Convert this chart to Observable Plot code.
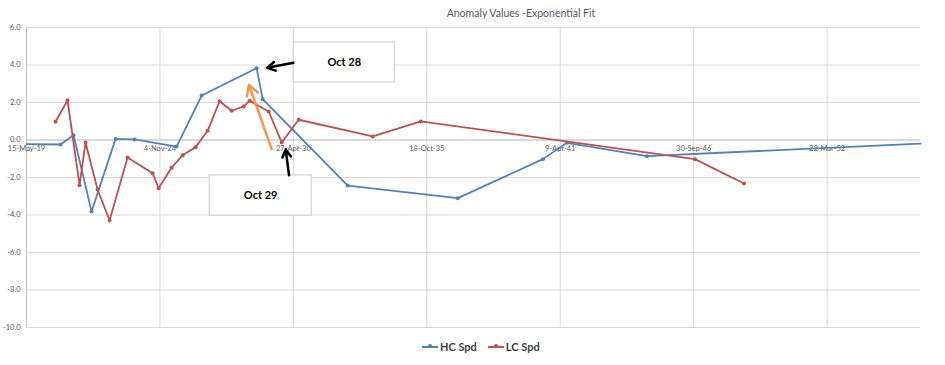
<!DOCTYPE html>
<html>
<head>
<meta charset="utf-8">
<script src="https://cdn.jsdelivr.net/npm/d3@7"></script>
<script src="https://cdn.jsdelivr.net/npm/@observablehq/plot@0.6"></script>
<style>
  html, body { margin: 0; padding: 0; background: #fff; }
  #wrap { position: relative; width: 945px; height: 365px; font-family: Lato, "Open Sans", sans-serif; }
  #title { position: absolute; left: 0; width: 1042px; top: 7px; text-align: center; font-size: 10.5px; color: #595959; }
  #legend { position: absolute; top: 340px; left: 422px; display: flex; align-items: center; font-size: 11px; font-weight: bold; color: #404040; }
  .item { display: flex; align-items: center; margin-right: 11px; }
  .sw { position: relative; width: 16px; height: 2px; margin-right: 2px; }
  .sw i { position: absolute; left: 6px; top: -1.5px; width: 4px; height: 4px; border-radius: 2px; }
</style>
</head>
<body>
<div id="wrap">
  <div id="title">Anomaly Values -Exponential Fit</div>
  <div id="chart"></div>
  <div id="legend">
    <div class="item"><span class="sw" style="background:#4F81BD"><i style="background:#4F81BD"></i></span>HC Spd</div>
    <div class="item"><span class="sw" style="background:#C0504D"><i style="background:#C0504D"></i></span>LC Spd</div>
  </div>
</div>
<script>
// x values are Excel date serials (days)
const xTickValues = [43600, 45600, 47600, 49600, 51600, 53600, 55600];
const xTickLabels = ["15-May-19", "4-Nov-24", "27-Apr-30", "18-Oct-35", "9-Apr-41", "30-Sep-46", "22-Mar-52"];
const yTickValues = [6, 4, 2, 0, -2, -4, -6, -8, -10];

const hcX = [43600, 44110, 44305, 44575, 44935, 45220, 45850, 46225, 47050, 47140, 48415, 50065, 51340, 51700, 52900, 57000];
const hcY = [-0.22, -0.24, 0.26, -3.81, 0.06, 0.03, -0.35, 2.37, 3.83, 2.18, -2.43, -3.10, -1.02, -0.15, -0.86, -0.19];

const lcX = [44035, 44215, 44395, 44485, 44665, 44845, 45115, 45490, 45580, 45775, 45940, 46135, 46315, 46495, 46675, 46855, 46945, 47230, 47425, 47680, 48790, 49510, 53620, 54355];
const lcY = [0.97, 2.12, -2.41, -0.13, -2.64, -4.29, -0.93, -1.77, -2.57, -1.48, -0.81, -0.38, 0.49, 2.07, 1.56, 1.79, 2.09, 1.52, -0.13, 1.08, 0.19, 0.99, -1.02, -2.32];

// annotations (data units)
const noteLabels = ["Oct 28", "Oct 29"];
const noteX1 = [47605, 46345];
const noteX2 = [49120, 47875];
const noteY1 = [5.2, -1.89];
const noteY2 = [3.07, -4.03];
const blackArrows = [
  {x1: 47600, y1: 4.12, x2: 47210, y2: 3.85},
  {x1: 47535, y1: -1.88, x2: 47485, y2: -0.51}
];
const orangeArrow = [{x1: 47275, y1: -0.49, x2: 46935, y2: 2.94}];

const HC = "#4F81BD", LC = "#C0504D";
const hc = hcX.map((x, i) => ({x, y: hcY[i]}));
const lc = lcX.map((x, i) => ({x, y: lcY[i]}));
const notes = noteLabels.map((t, i) => ({t, x1: noteX1[i], x2: noteX2[i], y1: noteY1[i], y2: noteY2[i]}));
const xmin = 43600, xmax = 57000;

const chart = Plot.plot({
  width: 945,
  height: 365,
  marginLeft: 26,
  marginRight: 25,
  marginTop: 27,
  marginBottom: 38,
  style: {fontFamily: "Lato, 'Open Sans', sans-serif", background: "transparent"},
  x: {domain: [xmin, xmax], axis: null},
  y: {domain: [-10, 6], axis: null},
  marks: [
    Plot.gridY(yTickValues, {stroke: "#d9d9d9", strokeOpacity: 1, strokeWidth: 1}),
    Plot.gridX(xTickValues, {stroke: "#d9d9d9", strokeOpacity: 1, strokeWidth: 1}),
    Plot.ruleX([xmin], {stroke: "#bfbfbf"}),
    Plot.ruleY([0], {stroke: "#c8c8c8"}),
    Plot.axisY(yTickValues, {tickSize: 0, tickPadding: 6, tickFormat: d => d.toFixed(1), fontSize: 7.5, fill: "#595959", label: null}),
    Plot.text(xTickValues, {x: d => d, y: 0, text: (d, i) => xTickLabels[i], dy: 8.5, fontSize: 7.5, fill: "#595959"}),
    Plot.line(hc, {x: "x", y: "y", stroke: HC, strokeWidth: 1.8}),
    Plot.dot(hc.filter(d => d.x > xmin && d.x < xmax), {x: "x", y: "y", r: 2, fill: HC}),
    Plot.line(lc, {x: "x", y: "y", stroke: LC, strokeWidth: 1.8}),
    Plot.dot(lc, {x: "x", y: "y", r: 2, fill: LC}),
    Plot.rect(notes, {x1: "x1", x2: "x2", y1: "y1", y2: "y2", fill: "white", stroke: "#c9c9c9", strokeWidth: 1}),
    Plot.text(notes, {x: d => (d.x1 + d.x2) / 2, y: d => (d.y1 + d.y2) / 2, text: "t", fontSize: 11, fontWeight: "bold", fill: "#000"}),
    Plot.arrow(orangeArrow, {x1: "x1", y1: "y1", x2: "x2", y2: "y2", stroke: "#F79646", strokeWidth: 2.5, headLength: 7}),
    Plot.arrow(blackArrows, {x1: "x1", y1: "y1", x2: "x2", y2: "y2", stroke: "#000", strokeWidth: 2.5, headLength: 6})
  ]
});
document.getElementById("chart").appendChild(chart);
</script>
</body>
</html>
